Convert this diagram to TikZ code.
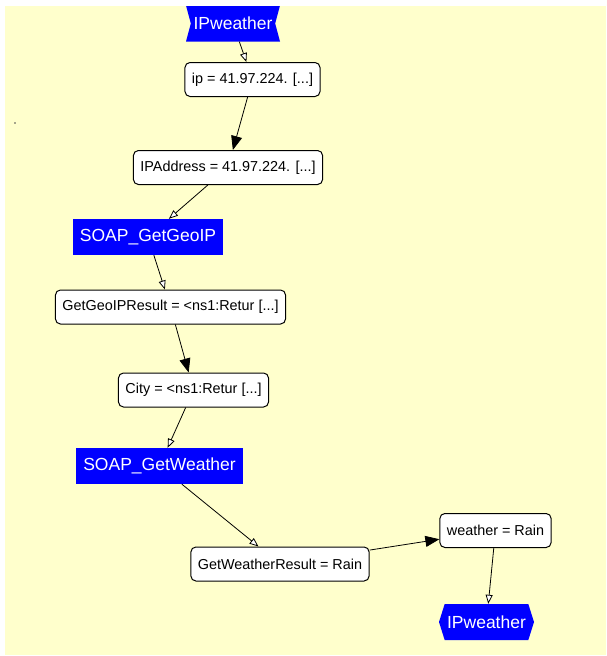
\documentclass[tikz,border=0pt]{standalone}
\usepackage{fontspec}
\setmainfont{Liberation Sans}
\usetikzlibrary{arrows.meta}
\usetikzlibrary{shapes.symbols}
\definecolor{paneyellow}{RGB}{255,255,204}
\definecolor{soapblue}{RGB}{0,0,255}
\tikzset{
	valstyle/.style={rectangle,rounded corners=5pt,draw=black,line width=1pt,fill=white,minimum height=34pt,inner xsep=7pt,font=\fontsize{14.4}{16}\selectfont},
	soapstyle/.style={rectangle,fill=soapblue,text=white,minimum height=36pt,inner xsep=4pt,font=\fontsize{17.5}{19}\selectfont},
	instyle/.style={signal,signal from=west and east,signal to=nowhere,signal pointer angle=150,fill=soapblue,text=white,minimum height=36pt,minimum width=94pt,inner sep=1pt,font=\fontsize{17.5}{19}\selectfont},
	outstyle/.style={signal,signal to=east and west,signal pointer angle=145,fill=soapblue,text=white,minimum height=36pt,minimum width=95pt,inner sep=1pt,font=\fontsize{17.5}{19}\selectfont},
	openarrow/.style={line width=0.8pt,-{Triangle[length=9pt,width=7pt,fill=white]}},
	fullarrow/.style={line width=0.8pt,-{Triangle[length=14pt,width=11pt]}}
}
\begin{document}
\begin{tikzpicture}[x=1pt,y=-1pt]
	\useasboundingbox (0,0) rectangle (606,656);
	\fill[white] (0,0) rectangle (606,656);
	\fill[paneyellow] (5,6) rectangle (606,655);
	\fill[black!70] (15,123) circle (0.8);
	\begin{scope}
	\clip (5,6) rectangle (606,655);
	\node[instyle] (ipw1) at (233,23.5) {IPweather};
	\node[valstyle] (ip) at (252.5,79.5) {ip = 41.97.224. [...]};
	\node[valstyle] (ipaddr) at (228,167.5) {IPAddress = 41.97.224. [...]};
	\node[soapstyle,minimum width=150pt] (geoip) at (148,237) {SOAP\_GetGeoIP};
	\node[valstyle] (georesult) at (170.5,307) {GetGeoIPResult = <ns1:Retur [...]};
	\node[valstyle] (city) at (193.5,390) {City = <ns1:Retur [...]};
	\node[soapstyle,minimum width=167pt] (getweather) at (159.5,466) {SOAP\_GetWeather};
	\node[valstyle] (weatherresult) at (280,564) {GetWeatherResult = Rain};
	\node[valstyle] (weather) at (495.5,530.5) {weather = Rain};
	\node[outstyle] (ipw2) at (486.5,622) {IPweather};
	\draw[openarrow] (ipw1)--(ip);
	\draw[fullarrow] (ip)--(ipaddr);
	\draw[openarrow] (ipaddr)--(geoip);
	\draw[openarrow] (geoip)--(georesult);
	\draw[fullarrow] (georesult)--(city);
	\draw[openarrow] (city)--(getweather);
	\draw[openarrow] (getweather)--(weatherresult);
	\draw[fullarrow] (weatherresult)--(weather);
	\draw[openarrow] (weather)--(ipw2);
	\end{scope}
\end{tikzpicture}
\end{document}
